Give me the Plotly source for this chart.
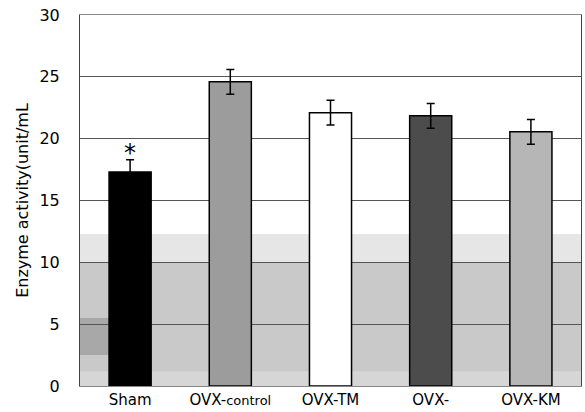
import plotly.graph_objects as go

categories = ["Sham", "OVX-control", "OVX-TM", "OVX-", "OVX-KM"]
tick_text = ["Sham", "OVX-<span style='font-size:13px'>control</span>", "OVX-TM", "OVX-", "OVX-KM"]
values = [17.3, 24.6, 22.1, 21.85, 20.55]
errors = [1.0, 1.0, 1.0, 1.0, 1.0]
bar_colors = ["#000000", "#9c9c9c", "#ffffff", "#4c4c4c", "#b6b6b6"]
y_ticks = [0, 5, 10, 15, 20, 25, 30]
sig_category = "Sham"

fig = go.Figure()
fig.add_trace(go.Bar(
    x=categories, y=values,
    marker=dict(color=bar_colors, line=dict(color="#000000", width=1.5)),
    width=0.42,
    error_y=dict(type="data", array=errors, visible=True, color="#000000", thickness=1.5, width=4),
))

font_family = "DejaVu Sans, sans-serif"

# asterisk over significant bar
i = categories.index(sig_category)
fig.add_annotation(x=sig_category, y=values[i] + errors[i], text="*", showarrow=False,
                   yanchor="bottom", yshift=-9, font=dict(size=24, color="#000", family="DejaVu Sans"))

# scanned-looking background bands
fig.add_shape(type="rect", xref="paper", yref="y", x0=0, x1=1, y0=0, y1=10,
              fillcolor="#c9c9c9", line=dict(width=0), layer="below")
fig.add_shape(type="rect", xref="paper", yref="y", x0=0, x1=1, y0=10, y1=12.3,
              fillcolor="#e6e6e6", line=dict(width=0), layer="below")
fig.add_shape(type="rect", xref="paper", yref="y", x0=0, x1=1, y0=0, y1=1.2,
              fillcolor="#d6d6d6", line=dict(width=0), layer="below")
fig.add_shape(type="rect", xref="paper", yref="y", x0=0, x1=0.06, y0=2.5, y1=5.5,
              fillcolor="#a8a8a8", line=dict(width=0), layer="below")

fig.update_layout(
    width=585, height=412,
    margin=dict(l=80, r=3, t=15, b=24),
    paper_bgcolor="#ffffff", plot_bgcolor="#ffffff",
    showlegend=False,
    font=dict(family=font_family, color="#000000"),
)
fig.update_xaxes(
    tickvals=categories, ticktext=tick_text,
    tickfont=dict(size=15, family=font_family),
    showline=True, linecolor="#888888", linewidth=1, mirror=True,
    ticks="", showgrid=False,
)
fig.update_yaxes(
    range=[0, 30], tickvals=y_ticks,
    tickfont=dict(size=16, family=font_family),
    showgrid=True, gridcolor="#555555", gridwidth=1,
    showline=True, linecolor="#444444", linewidth=1, mirror=True,
    ticks="outside", ticklen=0, ticklabelstandoff=16,
    zeroline=False,
    title=dict(text="Enzyme activity(unit/mL", font=dict(size=16, family=font_family), standoff=6),
)

fig.write_html("out.html")
